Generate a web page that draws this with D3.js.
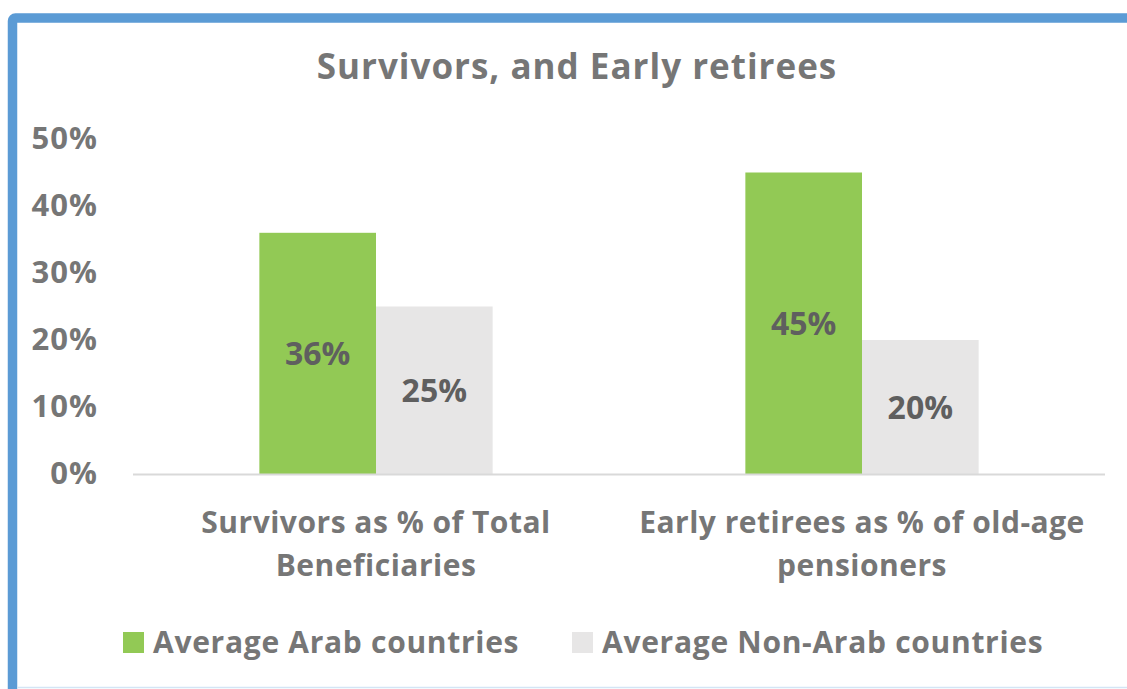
<!DOCTYPE html>
<html>
<head>
<meta charset="utf-8">
<script src="https://cdn.jsdelivr.net/npm/d3@7"></script>
<style>
  body { margin: 0; background: #fff; }
  svg { display: block; font-family: "Open Sans", sans-serif; font-weight: bold; }
</style>
</head>
<body>
<div id="chart"></div>
<script>
var categories = [["Survivors as % of Total", "Beneficiaries"], ["Early retirees as % of old-age", "pensioners"]];
var seriesNames = ["Average Arab countries", "Average Non-Arab countries"];
var arabValues = [0.36, 0.45];
var nonArabValues = [0.25, 0.20];
var yTicks = [0, 0.1, 0.2, 0.3, 0.4, 0.5];
var colors = ["#92C955", "#E7E6E6"];

var width = 1127,
    height = 689;
var margin = {top: 140, right: 22, bottom: 215, left: 133};

var svg = d3.select("#chart").append("svg")
  .attr("width", width)
  .attr("height", height);

// outer frame (blue border on top/left, light line at bottom)
svg.append("rect")
  .attr("x", 12.5)
  .attr("y", 18)
  .attr("width", width + 20)
  .attr("height", height + 20)
  .attr("rx", 3)
  .attr("fill", "none")
  .attr("stroke", "#5B9BD5")
  .attr("stroke-width", 9.5);
svg.append("line")
  .attr("x1", 17).attr("x2", width)
  .attr("y1", 687.5).attr("y2", 687.5)
  .attr("stroke", "#d4e5f5")
  .attr("stroke-width", 1.5);

svg.append("text")
  .attr("x", 577)
  .attr("y", 79)
  .attr("text-anchor", "middle")
  .attr("font-size", 35)
  .attr("letter-spacing", 1)
  .attr("fill", "#767676")
  .text("Survivors, and Early retirees");

var x0 = d3.scaleBand()
  .domain(d3.range(categories.length))
  .range([margin.left, width - margin.right])
  .paddingInner(0.52)
  .paddingOuter(0.26);

var x1 = d3.scaleBand()
  .domain([0, 1])
  .range([0, x0.bandwidth()]);

var y = d3.scaleLinear()
  .domain([0, 0.5])
  .range([474, 474 - 5 * 67]);

var yAxis = d3.axisLeft(y)
  .tickValues(yTicks)
  .tickFormat(d3.format(".0%"))
  .tickSize(0)
  .tickPadding(0);

var yg = svg.append("g")
  .attr("transform", "translate(98,0)")
  .call(yAxis);
yg.select(".domain").remove();
yg.selectAll("text")
  .attr("font-size", 31)
  .attr("letter-spacing", 1)
  .attr("font-family", "'Open Sans', sans-serif")
  .attr("font-weight", "bold")
  .attr("fill", "#767676");

var groups = svg.selectAll(".group")
  .data(categories.map(function(c, i) { return {cat: c, values: [arabValues[i], nonArabValues[i]]}; }))
  .enter().append("g")
  .attr("class", "group")
  .attr("transform", function(d, i) { return "translate(" + x0(i) + ",0)"; });

groups.selectAll("rect")
  .data(function(d) { return d.values; })
  .enter().append("rect")
  .attr("x", function(d, i) { return x1(i); })
  .attr("y", function(d) { return y(d); })
  .attr("width", x1.bandwidth())
  .attr("height", function(d) { return y(0) - y(d); })
  .attr("fill", function(d, i) { return colors[i]; });

groups.selectAll(".label")
  .data(function(d) { return d.values; })
  .enter().append("text")
  .attr("class", "label")
  .attr("x", function(d, i) { return x1(i) + x1.bandwidth() / 2; })
  .attr("y", function(d) { return y(d / 2); })
  .attr("dy", "0.36em")
  .attr("text-anchor", "middle")
  .attr("font-size", 32)
  .attr("fill", "#5f5f5f")
  .text(d3.format(".0%"));

// baseline
svg.append("line")
  .attr("x1", margin.left).attr("x2", width - margin.right)
  .attr("y1", y(0) + 0.5).attr("y2", y(0) + 0.5)
  .attr("stroke", "#d9d9d9")
  .attr("stroke-width", 2);

// category labels
var catLabels = svg.selectAll(".cat")
  .data(categories)
  .enter().append("text")
  .attr("class", "cat")
  .attr("text-anchor", "middle")
  .attr("font-size", 30)
  .attr("letter-spacing", 0.5)
  .attr("fill", "#767676")
  .attr("transform", function(d, i) { return "translate(" + (x0(i) + x0.bandwidth() / 2) + ",533)"; });
catLabels.selectAll("tspan")
  .data(function(d) { return d; })
  .enter().append("tspan")
  .attr("x", 0)
  .attr("y", function(d, i) { return i * 43; })
  .text(function(d) { return d; });

// legend
var legendX = [123, 572];
var legend = svg.selectAll(".legend")
  .data(seriesNames)
  .enter().append("g")
  .attr("class", "legend")
  .attr("transform", function(d, i) { return "translate(" + legendX[i] + ",632)"; });
legend.append("rect")
  .attr("width", 21)
  .attr("height", 21)
  .attr("fill", function(d, i) { return colors[i]; });
legend.append("text")
  .attr("x", 30)
  .attr("y", 20.5)
  .attr("font-size", 30)
  .attr("letter-spacing", 0.7)
  .attr("fill", "#767676")
  .text(function(d) { return d; });
</script>
</body>
</html>
